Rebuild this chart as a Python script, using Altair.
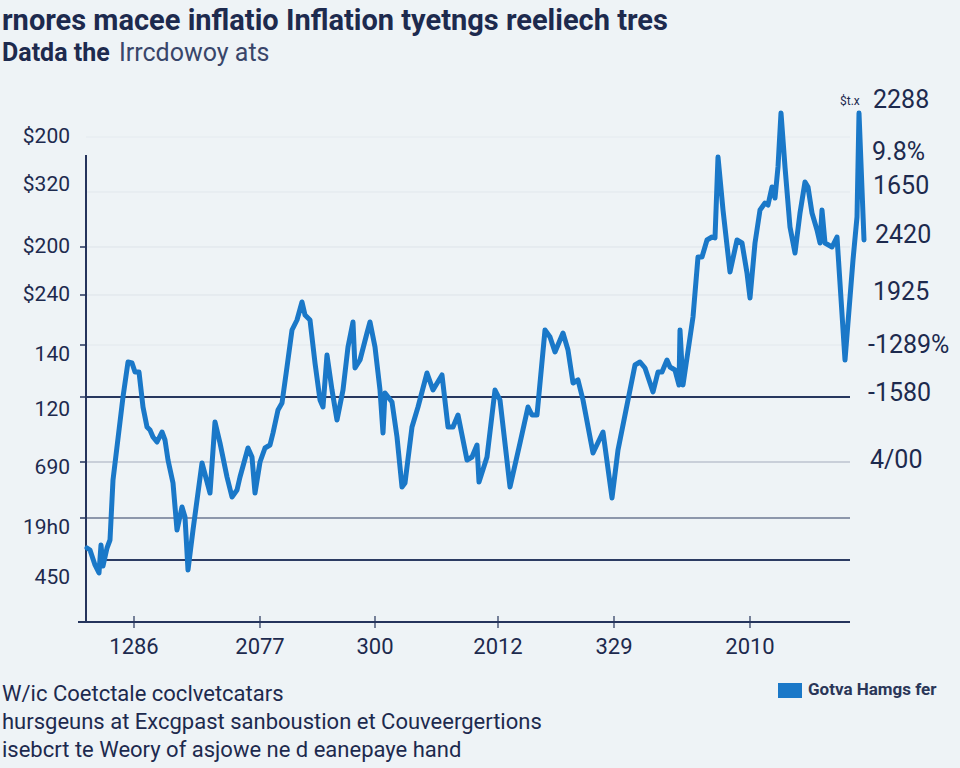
import altair as alt
import pandas as pd

# ---- data (x: period index, y: level) ----
line_x = [1,4,9,13,15,17,21,24,27,37,42,46,49,53,57,61,64,67,71,76,79,82,87,91,96,99,102,107,116,124,
          129,134,141,146,151,154,162,166,169,174,179,184,187,192,196,201,206,211,216,219,224,229,234,237,
          241,246,251,257,262,267,269,274,281,284,289,294,297,299,306,311,316,319,326,332,341,347,356,362,
          367,372,381,386,391,393,401,409,414,424,434,442,446,451,459,464,469,477,482,487,492,497,507,517,
          526,532,542,549,554,559,567,572,576,581,584,589,593,594,597,607,612,616,621,626,629,632,637,644,
          651,656,661,664,669,674,679,682,686,689,692,695,699,704,709,714,719,722,726,731,734,736,739,746,
          751,759,767,771,773,778]
line_y = [74,72,57,49,77,56,74,82,142,225,260,259,250,250,215,195,192,185,180,190,182,162,139,92,115,105,52,92,159,129,
          200,179,145,125,132,145,174,165,129,160,174,177,189,212,219,255,292,302,320,307,302,259,222,215,
          267,232,202,232,275,300,254,262,289,300,275,232,189,229,220,185,135,139,195,215,249,232,247,195,
          195,207,162,165,177,140,165,232,222,135,179,215,207,207,292,285,270,289,272,239,242,222,169,190,
          124,172,222,257,260,254,230,250,250,262,255,252,237,292,237,305,365,365,382,385,384,465,412,350,
          382,379,349,324,379,412,419,417,435,424,455,509,455,395,369,409,440,435,409,392,379,412,379,375,
          385,262,362,405,509,382]

left_labels = ["$200", "$320", "$200", "$240", "140", "120", "690", "19h0", "450"]
left_label_y = [485, 437, 375, 327, 267, 212, 154, 94, 44]
left_tick_y = [375, 327, 277, 225, 160, 104]

right_labels = ["2288", "9.8%", "1650", "2420", "1925", "-1289%", "-1580", "4/00"]
right_label_y = [522, 470, 436, 387, 330, 277, 229, 162]
right_label_x = [787, 786, 787, 789, 787, 782, 782, 784]

x_tick_labels = ["1286", "2077", "300", "2012", "329", "2010"]
x_tick_pos = [48, 174, 289, 412, 528, 664]

grid_y = [485, 430, 375, 327, 277, 225, 160, 104, 62]
grid_x0 = [0, 0, 0, 0, 0, 0, 0, 0, 16]
grid_color = ["#e4eaef", "#e1e7ec", "#dde3e9", "#dde3e9", "#e2e8ed", "#27375f", "#a3abbb", "#6d7892", "#2c3b63"]
grid_width = [1, 1, 1, 1, 1, 2, 1.2, 1.4, 1.8]

title_text = "rnores macee inflatio  Inflation  tyetngs reeliech tres"
subtitle_bold = "Datda the"
subtitle_rest = "Irrcdowoy ats"
notes = ["W/ic Coetctale coclvetcatars",
         "hursgeuns at Excgpast sanboustion et Couveergertions",
         "isebcrt te Weory of asjowe ne d eanepaye hand"]
legend_label = "Gotva Hamgs fer"

# ---- styling ----
NAVY = "#1d2a4e"
BLUE = "#1a78c8"
BG = "#eef3f6"
FONT = "Roboto"

xs = alt.Scale(domain=[0, 764], nice=False, zero=False)
ys = alt.Scale(domain=[0, 522], nice=False, zero=False)

def X(f):
    return alt.X(f, type="quantitative", scale=xs, axis=None)

def Y(f):
    return alt.Y(f, type="quantitative", scale=ys, axis=None)

line_df = pd.DataFrame({"x": line_x, "y": line_y, "i": range(len(line_x))})
grid_df = pd.DataFrame({"y": grid_y, "x0": grid_x0, "x1": [764] * len(grid_y),
                        "c": grid_color, "w": grid_width})
lt_df = pd.DataFrame({"y": left_tick_y, "x0": [-6] * len(left_tick_y), "x1": [0] * len(left_tick_y)})
xt_df = pd.DataFrame({"x": x_tick_pos, "y0": [-6] * 6, "y1": [6] * 6, "lab": x_tick_labels,
                      "ly": [-25] * 6})
ll_df = pd.DataFrame({"lab": left_labels, "y": left_label_y, "x": [-16] * len(left_labels)})
rl_df = pd.DataFrame({"lab": right_labels, "y": right_label_y, "x": right_label_x})

grid = alt.Chart(grid_df).mark_rule().encode(
    x=X("x0"), x2="x1", y=Y("y"),
    color=alt.Color("c:N", scale=None), strokeWidth=alt.StrokeWidth("w:Q", scale=None))

axes_df = pd.DataFrame({"x0": [0, -8], "x1": [0, 764], "y0": [0, 0], "y1": [467, 0]})
axes = alt.Chart(axes_df).mark_rule(color="#25345c", strokeWidth=2).encode(
    x=X("x0"), x2="x1", y=Y("y0"), y2="y1")

lticks = alt.Chart(lt_df).mark_rule(color="#25345c", strokeWidth=1.5).encode(
    x=X("x0"), x2="x1", y=Y("y"))
xticks = alt.Chart(xt_df).mark_rule(color="#25345c", strokeWidth=1.2).encode(
    x=X("x"), y=Y("y0"), y2="y1")

line = alt.Chart(line_df).mark_line(color=BLUE, strokeWidth=5, strokeJoin="round",
                                    strokeCap="round", clip=False).encode(
    x=X("x"), y=Y("y"), order="i:Q")

left_text = alt.Chart(ll_df).mark_text(align="right", baseline="middle", font=FONT,
                                       fontSize=21, color=NAVY).encode(
    x=X("x"), y=Y("y"), text="lab:N")
right_text = alt.Chart(rl_df).mark_text(align="left", baseline="middle", font=FONT,
                                        fontSize=25, color=NAVY).encode(
    x=X("x"), y=Y("y"), text="lab:N")
x_text = alt.Chart(xt_df).mark_text(align="center", baseline="middle", font=FONT,
                                    fontSize=22, color=NAVY).encode(
    x=X("x"), y=Y("ly"), text="lab:N")

# annotation texts (pixel offsets relative to plot origin at 86,100)
ann_df = pd.DataFrame({
    "t": [title_text, subtitle_bold, subtitle_rest, notes[0], notes[1], notes[2], legend_label, "$t.x"],
    "px": [2, 2, 119, 2, 2, 2, 808, 840],
    "py": [21, 53, 53, 694, 722, 750, 690, 101],
    "fs": [29, 25, 25, 22, 22, 22, 17, 12],
    "fw": ["bold", "bold", "normal", "normal", "normal", "normal", "bold", "normal"],
    "fc": [NAVY, NAVY, "#39466a", NAVY, NAVY, NAVY, "#2a3658", NAVY],
})
ann_layers = []
for _, r in ann_df.iterrows():
    ann_layers.append(
        alt.Chart(pd.DataFrame({"t": [r["t"]]})).mark_text(
            align="left", baseline="middle", font=FONT, fontSize=float(r["fs"]),
            fontWeight=r["fw"], color=r["fc"]).encode(
            x=alt.value(float(r["px"]) - 86), y=alt.value(float(r["py"]) - 100), text="t:N"))

legend_sq = alt.Chart(pd.DataFrame({"k": [legend_label]})).mark_rect(color=BLUE).encode(
    x=alt.value(778 - 86), x2=alt.value(802 - 86), y=alt.value(683 - 100), y2=alt.value(698 - 100))

chart = alt.layer(grid, axes, lticks, xticks, line, left_text, right_text, x_text,
                  legend_sq, *ann_layers).properties(
    width=764, height=522,
    padding={"left": 86, "top": 100, "right": 110, "bottom": 146},
    autosize=alt.AutoSizeParams(type="none"),
    background=BG,
).configure_view(stroke=None)

chart.save("out.html", embed_options={"renderer": "svg", "actions": False})
